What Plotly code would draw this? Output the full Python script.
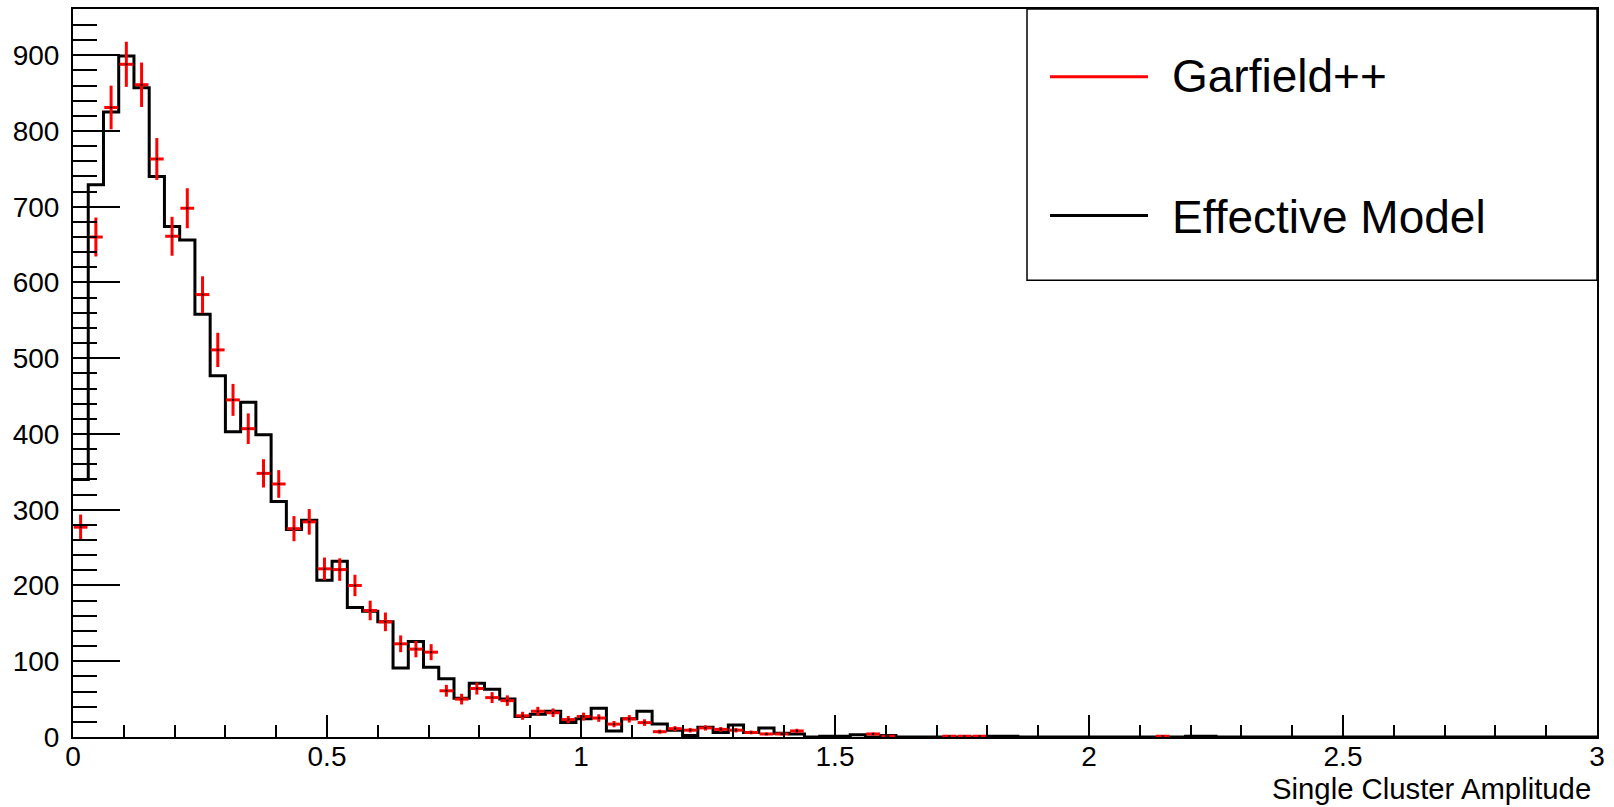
import numpy as np
import plotly.graph_objects as go

# ---- data (100 bins, width 0.03, range 0..3) ----
bin_width = 0.03
n_bins = 100
model_counts = [
    340, 729, 825, 899, 857, 740, 674, 656, 558, 477,
    403, 442, 399, 311, 274, 286, 207, 232, 171, 166,
    152, 91, 126, 92, 77, 51, 71, 63, 50, 27,
    30, 34, 19, 24, 38, 8, 24, 34, 17, 9,
    2, 13, 6, 16, 6, 12, 5, 4, 0, 1,
    1, 3, 0, 2, 0, 0, 0, 0, 0, 0,
    1, 1, 0, 0, 0, 0, 0, 0, 0, 0,
    0, 0, 0, 1, 1, 0, 0, 0, 0, 0,
    0, 0, 0, 0, 0, 0, 0, 0, 0, 0,
    0, 0, 0, 0, 0, 0, 0, 0, 0, 0,
]
garfield_counts = [
    277, 660, 831, 888, 861, 763, 661, 698, 584, 511,
    445, 407, 348, 334, 275, 284, 222, 221, 200, 167,
    152, 123, 116, 112, 61, 50, 64, 52, 48, 28,
    34, 32, 23, 27, 25, 17, 24, 19, 7, 11,
    9, 12, 10, 9, 6, 4, 4, 8, 0, 0,
    0, 0, 4, 1, 0, 0, 0, 1, 1, 1,
    0, 0, 0, 0, 0, 0, 0, 0, 0, 0,
    0, 1, 0, 0, 0, 0, 0, 0, 0, 0,
    0, 0, 0, 0, 0, 0, 0, 0, 0, 0,
    0, 0, 0, 0, 0, 0, 0, 0, 0, 0,
]
legend_labels = ["Garfield++", "Effective Model"]
x_title = "Single Cluster Amplitude"

edges = np.arange(n_bins + 1) * bin_width
centers = edges[:-1] + bin_width / 2

FONT = "Liberation Sans, Arial, Helvetica, sans-serif"
W, H = 1614, 807
L, R, T, B = 73, 17, 7, 70
pw, ph = W - L - R, H - T - B

def px(xp):
    return (xp - L) / pw

def py(yp):
    return (H - B - yp) / ph

fig = go.Figure()

# Effective model: step histogram
step_x = list(edges[:-1]) + [edges[-1]]
step_y = list(model_counts) + [model_counts[-1]]
fig.add_trace(go.Scatter(
    x=step_x, y=step_y, mode="lines", line_shape="hv",
    line=dict(color="black", width=3), showlegend=False, hoverinfo="skip",
))

# Garfield++: points with error bars (skip empty bins)
gx = [c for c, v in zip(centers, garfield_counts) if v > 0]
gy = [v for v in garfield_counts if v > 0]
gerr = [float(np.sqrt(v)) for v in gy]
fig.add_trace(go.Scatter(
    x=gx, y=gy, mode="markers",
    marker=dict(color="black", size=2, symbol="square"),
    error_y=dict(type="data", array=gerr, visible=True, color="red", thickness=3, width=0),
    error_x=dict(type="constant", value=bin_width * 0.45, visible=True, color="red", thickness=3, width=0),
    showlegend=False,
))

fig.update_layout(
    width=W, height=H,
    margin=dict(l=L, r=R, t=T, b=B, pad=0),
    paper_bgcolor="white", plot_bgcolor="white",
    font=dict(family=FONT, color="black"),
)
fig.update_xaxes(
    range=[0, 3], dtick=0.5, tick0=0, showgrid=False, zeroline=False,
    showline=True, mirror=True, linecolor="black", linewidth=2,
    ticks="inside", ticklen=22, tickwidth=1.5, tickcolor="black",
    minor=dict(dtick=0.1, tick0=0, ticks="inside", ticklen=12, tickwidth=1.5, tickcolor="black", showgrid=False),
    tickfont=dict(size=28, family=FONT, color="black"),
    ticklabelstandoff=-7,
)
fig.update_yaxes(
    range=[0, 961], dtick=100, tick0=0, showgrid=False, zeroline=False,
    showline=True, mirror=True, linecolor="black", linewidth=2,
    ticks="inside", ticklen=47, tickwidth=1.5, tickcolor="black",
    minor=dict(dtick=20, tick0=0, ticks="inside", ticklen=24, tickwidth=1.5, tickcolor="black", showgrid=False),
    tickfont=dict(size=28, family=FONT, color="black"),
    ticklabelstandoff=6,
)

# x-axis title, right aligned (ROOT style)
fig.add_annotation(
    text=x_title, xref="paper", yref="paper", x=px(1593), y=py(789),
    xanchor="right", yanchor="middle", showarrow=False,
    font=dict(size=29.3, family=FONT, color="black"),
)

# Legend box
fig.add_shape(type="rect", xref="paper", yref="paper",
              x0=px(1027), x1=1.0, y0=py(279), y1=1.0,
              line=dict(color="black", width=1.5), fillcolor="white", layer="above")
fig.add_shape(type="line", xref="paper", yref="paper",
              x0=px(1050), x1=px(1148), y0=py(75), y1=py(75),
              line=dict(color="red", width=3))
fig.add_shape(type="line", xref="paper", yref="paper",
              x0=px(1050), x1=px(1148), y0=py(214), y1=py(214),
              line=dict(color="black", width=3))
fig.add_annotation(text=legend_labels[0], xref="paper", yref="paper",
                   x=px(1170), y=py(74), xanchor="left", yanchor="middle",
                   showarrow=False, font=dict(size=46, family=FONT, color="black"))
fig.add_annotation(text=legend_labels[1], xref="paper", yref="paper",
                   x=px(1170), y=py(216), xanchor="left", yanchor="middle",
                   showarrow=False, font=dict(size=46, family=FONT, color="black"))

fig.write_html(
    "out.html",
    config={"displayModeBar": False},
    post_script="document.body.style.margin='0';document.body.style.padding='0';document.body.style.overflow='hidden';",
)
